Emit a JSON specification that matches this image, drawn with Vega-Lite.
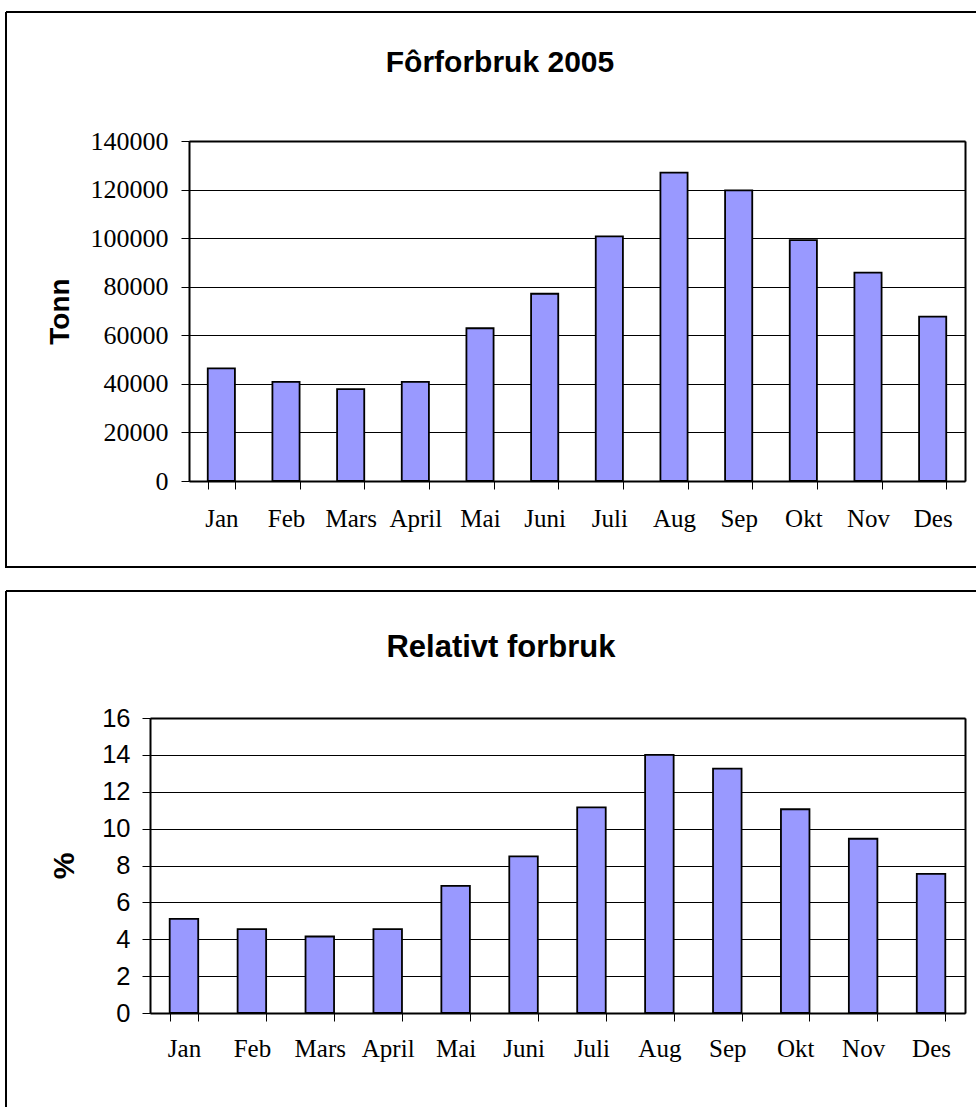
{
  "$schema": "https://vega.github.io/schema/vega-lite/v6.json",
  "background": "white",
  "padding": {"left": 5, "top": 11, "right": 0, "bottom": 0},
  "spacing": 22,
  "datasets": {
    "forbruk": [
      {"maned": "Jan", "tonn": 46400, "prosent": 5.1},
      {"maned": "Feb", "tonn": 40800, "prosent": 4.55},
      {"maned": "Mars", "tonn": 37800, "prosent": 4.15},
      {"maned": "April", "tonn": 40800, "prosent": 4.55},
      {"maned": "Mai", "tonn": 62900, "prosent": 6.9},
      {"maned": "Juni", "tonn": 77100, "prosent": 8.5},
      {"maned": "Juli", "tonn": 100700, "prosent": 11.15},
      {"maned": "Aug", "tonn": 127000, "prosent": 14.0},
      {"maned": "Sep", "tonn": 119700, "prosent": 13.25},
      {"maned": "Okt", "tonn": 99200, "prosent": 11.05},
      {"maned": "Nov", "tonn": 85800, "prosent": 9.45},
      {"maned": "Des", "tonn": 67700, "prosent": 7.55}
    ]
  },
  "vconcat": [
    {
      "width": 970,
      "height": 555,
      "view": {"fill": "white", "stroke": "#000", "strokeWidth": 2, "strokeDash": [970, 555, 1525, 0]},
      "title": {
        "text": "Fôrforbruk 2005",
        "font": "Liberation Sans", "fontSize": 30, "fontWeight": "bold", "color": "#000",
        "anchor": "middle", "frame": "group", "baseline": "alphabetic", "offset": -90, "dx": 9
      },
      "data": {"name": "forbruk"},
      "layer": [
        {
          "mark": {"type": "bar", "fill": "#9999FF"},
          "encoding": {
            "x": {
              "field": "maned", "type": "nominal", "sort": null,
              "scale": {"range": [183, 959], "paddingInner": 0.58, "paddingOuter": 0.29},
              "axis": {
                "orient": "bottom", "offset": -86, "title": null, "tickBand": "extent",
                "ticks": true, "tickSize": 8, "tickColor": "#000", "tickWidth": 1,
                "domain": true, "domainColor": "#000", "domainWidth": 2,
                "labelFont": "Liberation Serif", "labelFontSize": 25, "labelColor": "#000",
                "labelAngle": 0, "labelBaseline": "alphabetic", "labelPadding": 37,
                "labelOverlap": false, "labelFlush": false, "labelBound": false, "grid": false
              }
            },
            "y": {
              "field": "tonn", "type": "quantitative",
              "scale": {"domain": [0, 140000], "range": [469, 129], "nice": false},
              "axis": {
                "orient": "left", "offset": -183,
                "values": [0, 20000, 40000, 60000, 80000, 100000, 120000, 140000], "format": "d",
                "ticks": true, "tickSize": 8, "tickColor": "#000", "tickWidth": 1,
                "domain": true, "domainColor": "#000", "domainWidth": 2,
                "labelFont": "Liberation Serif", "labelFontSize": 26, "labelColor": "#000",
                "labelPadding": 13, "labelBaseline": "middle",
                "labelOverlap": false, "labelFlush": false, "labelBound": false,
                "grid": true, "gridColor": "#000", "gridWidth": 1,
                "title": "Tonn", "titleFont": "Liberation Sans", "titleFontSize": 28,
                "titleFontWeight": "bold", "titleColor": "#000",
                "titleBaseline": "alphabetic", "titlePadding": 22
              }
            }
          }
        },
        {
          "mark": {"type": "bar", "fillOpacity": 0, "stroke": "#000", "strokeWidth": 1.8},
          "encoding": {
            "x": {
              "field": "maned", "type": "nominal", "sort": null,
              "scale": {"range": [183, 959], "paddingInner": 0.58, "paddingOuter": 0.29},
              "axis": {
                "orient": "top", "offset": -129, "title": null,
                "domain": true, "domainColor": "#000", "domainWidth": 2,
                "ticks": false, "labels": false, "grid": false
              }
            },
            "y": {
              "field": "tonn", "type": "quantitative",
              "scale": {"domain": [0, 140000], "range": [469, 129], "nice": false},
              "axis": {
                "orient": "right", "offset": -11, "title": null,
                "domain": true, "domainColor": "#000", "domainWidth": 2,
                "ticks": false, "labels": false, "grid": false
              }
            }
          }
        }
      ],
      "resolve": {"axis": {"x": "independent", "y": "independent"}}
    },
    {
      "width": 970,
      "height": 516,
      "view": {"fill": "white", "stroke": "#000", "strokeWidth": 2, "strokeDash": [970, 1486, 516, 0]},
      "title": {
        "text": "Relativt forbruk",
        "font": "Liberation Sans", "fontSize": 31, "fontWeight": "bold", "color": "#000",
        "anchor": "middle", "frame": "group", "baseline": "alphabetic", "offset": -97, "dx": 10
      },
      "data": {"name": "forbruk"},
      "layer": [
        {
          "mark": {"type": "bar", "fill": "#9999FF"},
          "encoding": {
            "x": {
              "field": "maned", "type": "nominal", "sort": null,
              "scale": {"range": [144, 959], "paddingInner": 0.58, "paddingOuter": 0.29},
              "axis": {
                "orient": "bottom", "offset": -94, "title": null, "tickBand": "extent",
                "ticks": true, "tickSize": 8, "tickColor": "#000", "tickWidth": 1,
                "domain": true, "domainColor": "#000", "domainWidth": 2,
                "labelFont": "Liberation Serif", "labelFontSize": 25, "labelColor": "#000",
                "labelAngle": 0, "labelBaseline": "alphabetic", "labelPadding": 35,
                "labelOverlap": false, "labelFlush": false, "labelBound": false, "grid": false
              }
            },
            "y": {
              "field": "prosent", "type": "quantitative",
              "scale": {"domain": [0, 16], "range": [422, 127], "nice": false},
              "axis": {
                "orient": "left", "offset": -144,
                "values": [0, 2, 4, 6, 8, 10, 12, 14, 16], "format": "d",
                "ticks": true, "tickSize": 8, "tickColor": "#000", "tickWidth": 1,
                "domain": true, "domainColor": "#000", "domainWidth": 2,
                "labelFont": "Liberation Sans", "labelFontSize": 25.5, "labelColor": "#000",
                "labelPadding": 12, "labelBaseline": "middle",
                "labelOverlap": false, "labelFlush": false, "labelBound": false,
                "grid": true, "gridColor": "#000", "gridWidth": 1,
                "title": "%", "titleFont": "Liberation Sans", "titleFontSize": 30,
                "titleFontWeight": "bold", "titleColor": "#000",
                "titleBaseline": "alphabetic", "titlePadding": 28
              }
            }
          }
        },
        {
          "mark": {"type": "bar", "fillOpacity": 0, "stroke": "#000", "strokeWidth": 1.8},
          "encoding": {
            "x": {
              "field": "maned", "type": "nominal", "sort": null,
              "scale": {"range": [144, 959], "paddingInner": 0.58, "paddingOuter": 0.29},
              "axis": {
                "orient": "top", "offset": -127, "title": null,
                "domain": true, "domainColor": "#000", "domainWidth": 2,
                "ticks": false, "labels": false, "grid": false
              }
            },
            "y": {
              "field": "prosent", "type": "quantitative",
              "scale": {"domain": [0, 16], "range": [422, 127], "nice": false},
              "axis": {
                "orient": "right", "offset": -11, "title": null,
                "domain": true, "domainColor": "#000", "domainWidth": 2,
                "ticks": false, "labels": false, "grid": false
              }
            }
          }
        }
      ],
      "resolve": {"axis": {"x": "independent", "y": "independent"}}
    }
  ]
}
